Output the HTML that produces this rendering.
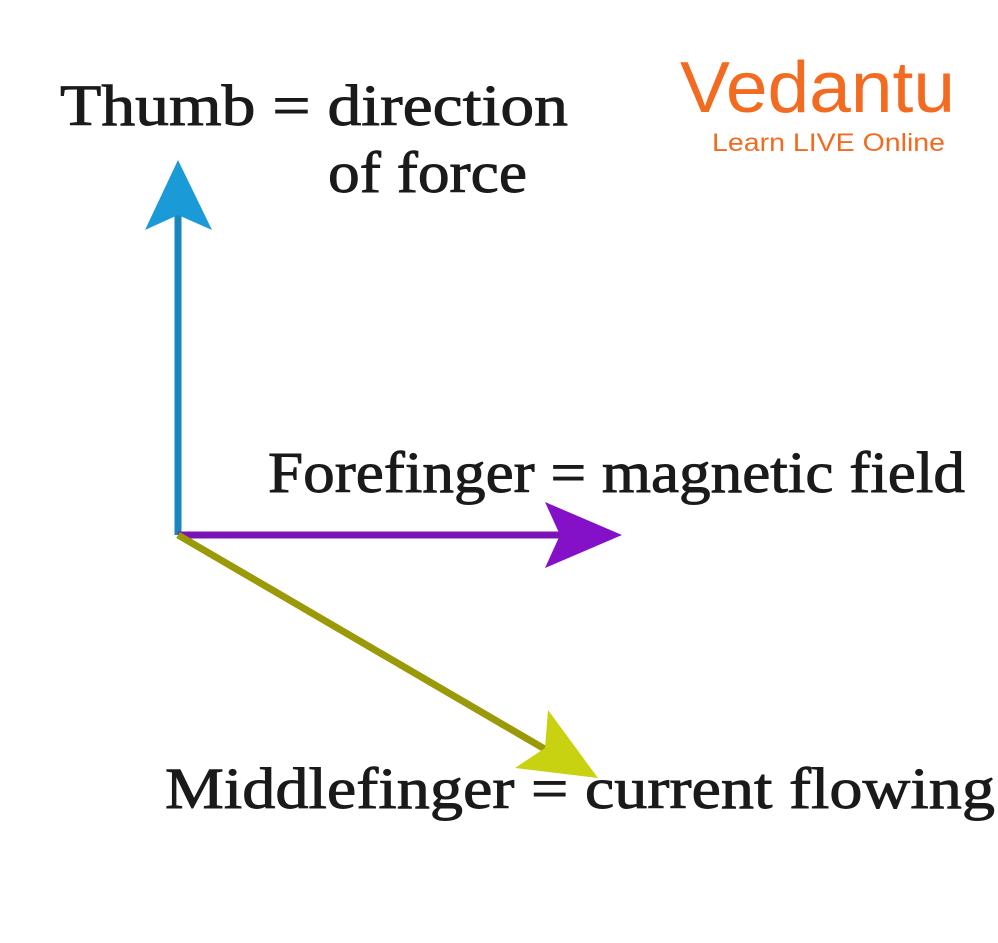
<!DOCTYPE html>
<html><head><style>
html,body{margin:0;padding:0;background:#fff;}
svg{display:block;}
</style></head><body>
<svg width="998" height="943" viewBox="0 0 998 943" xmlns="http://www.w3.org/2000/svg">
<rect width="998" height="943" fill="#fff"/>
<g font-family="Liberation Serif, serif" fill="#1a1a1a" stroke="#1a1a1a" stroke-width="0.9" font-size="58">
<text x="60" y="125" textLength="508" lengthAdjust="spacingAndGlyphs">Thumb = direction</text>
<text x="328" y="192" textLength="199" lengthAdjust="spacingAndGlyphs">of force</text>
<text x="268" y="492" textLength="697" lengthAdjust="spacingAndGlyphs">Forefinger = magnetic field</text>
<text x="165" y="808" textLength="830" lengthAdjust="spacingAndGlyphs">Middlefinger = current flowing</text>
</g>
<!-- blue -->
<line x1="178" y1="535" x2="178" y2="215" stroke="#1a86c0" stroke-width="7"/>
<polygon points="178,160 145,230 178,215 212,230" fill="#1a9ad6"/>
<!-- purple -->
<line x1="178" y1="535" x2="565" y2="535" stroke="#7a14b4" stroke-width="7"/>
<polygon points="622,535 545,502 560,535 545,568" fill="#8410c8"/>
<!-- olive -->
<line x1="178" y1="535" x2="555" y2="755" stroke="#9a9a08" stroke-width="7"/>
<polygon points="598,778 515,768 545,748 548,710" fill="#c8d210"/>
<!-- logo -->
<text x="680" y="112" font-family="Liberation Sans, sans-serif" font-size="72" fill="#f26b21" textLength="275" lengthAdjust="spacingAndGlyphs">Vedantu</text>
<text x="712" y="151" font-family="Liberation Sans, sans-serif" font-size="25" fill="#f26b21" textLength="233" lengthAdjust="spacingAndGlyphs">Learn LIVE Online</text>
</svg>
</body></html>
